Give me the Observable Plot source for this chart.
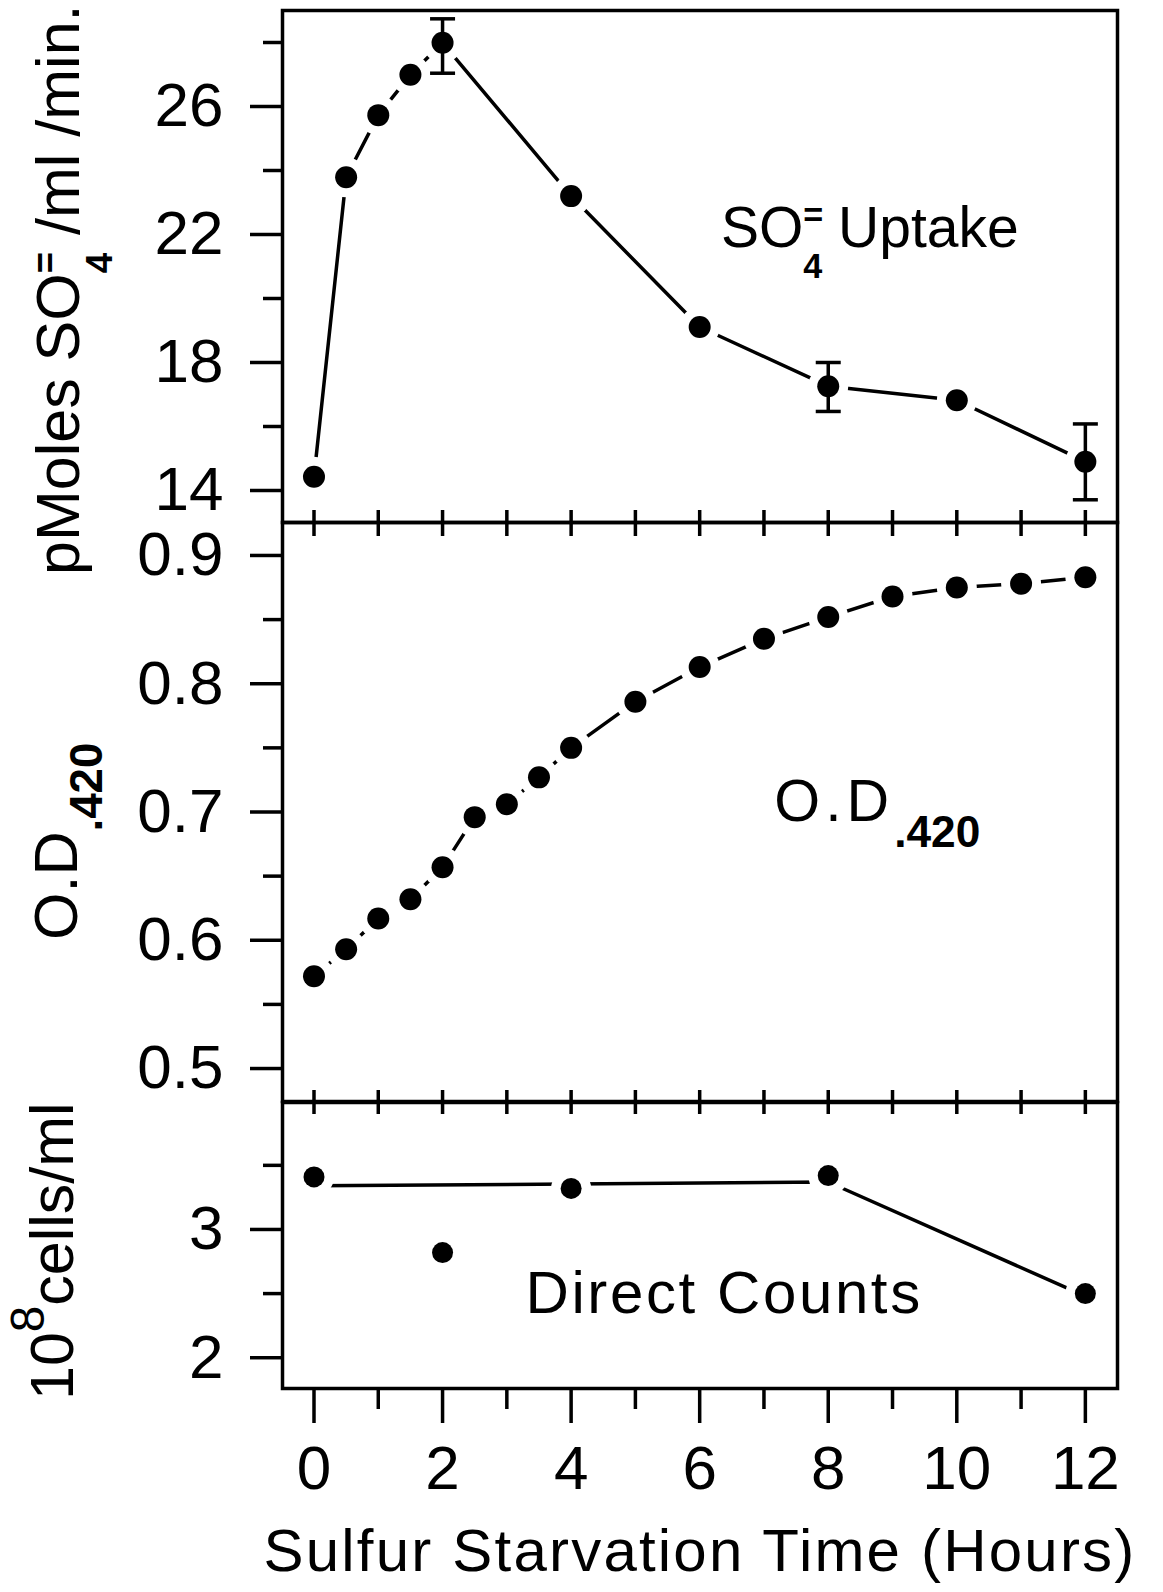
<!DOCTYPE html>
<html>
<head>
<meta charset="utf-8">
<script src="https://cdn.jsdelivr.net/npm/d3@7"></script>
<script src="https://cdn.jsdelivr.net/npm/@observablehq/plot@0.6"></script>
<style>
  body { margin: 0; background: #fff; }
  #wrap { position: relative; width: 1163px; height: 1592px; background: #fff; overflow: hidden;
          font-family: "Liberation Sans", Arial, sans-serif; color: #000; }
  #wrap svg { position: absolute; left: 0; overflow: visible; }
  .ytitle { position: absolute; white-space: nowrap; transform-origin: 0 0; transform: rotate(-90deg);
            line-height: 1; font-size: 61px; }
  .sb { font-size: 0.6em; position: relative; top: 0.9em; font-weight: bold; }
  .sp { font-size: 0.6em; position: relative; top: -0.58em; margin-left: -0.556em; font-weight: bold; }
  .sub2 { font-size: 0.75em; position: relative; top: 0.55em; font-weight: bold; }
  .sup8 { font-size: 0.78em; position: relative; top: -0.62em; }
</style>
</head>
<body>
<div id="wrap"></div>
<script>
// ---------------- data ----------------
const hours = [0, 1, 2, 3, 4, 5, 6, 7, 8, 9, 10, 11, 12];
const evenHours = [0, 2, 4, 6, 8, 10, 12];
const oddHours = [1, 3, 5, 7, 9, 11];

// Panel 1: SO4= uptake (pMoles/ml/min)
const uptakeHours  = [0, 0.5, 1, 1.5, 2, 4, 6, 8, 10, 12];
const uptakeValues = [14.43, 23.79, 25.73, 26.99, 27.99, 23.2, 19.11, 17.26, 16.82, 14.9];
const errHours = [2, 8, 12];
const errLow   = [27.04, 16.47, 13.71];
const errHigh  = [28.74, 18.0, 16.08];
const uptakeMajor = [14, 18, 22, 26];
const uptakeMinor = [16, 20, 24, 28];

// Panel 2: O.D.420
const odHours  = [0, 0.5, 1, 1.5, 2, 2.5, 3, 3.5, 4, 5, 6, 7, 8, 9, 10, 11, 12];
const odValues = [0.572, 0.593, 0.617, 0.632, 0.657, 0.696, 0.706, 0.727, 0.750, 0.786, 0.813, 0.835, 0.852, 0.868, 0.875, 0.878, 0.883];
const odMajor = [0.5, 0.6, 0.7, 0.8, 0.9];
const odMinor = [0.55, 0.65, 0.75, 0.85];

// Panel 3: direct counts (10^8 cells/ml)
const countHours  = [0, 2, 4, 8, 12];
const countValues = [3.41, 2.82, 3.32, 3.42, 2.50];
const countLineHours  = [0, 8, 12];
const countLineValues = [3.34, 3.37, 2.48];
const countMajor = [2, 3];
const countMinor = [2.5, 3.5];

// in-panel labels
const noteLabels = ["SO4= Uptake", "O.D.420", "Direct Counts"];
const noteHours  = [6.33, 7.16, 3.29];
const noteValues = [22.87, 0.7257, 2.68];
const xTitle = "Sulfur Starvation Time (Hours)";

// ---------------- build ----------------
const zip2 = (xs, ys) => xs.map((h, i) => ({h, v: ys[i]}));
const uptake = zip2(uptakeHours, uptakeValues);
const uptakeErr = errHours.map((h, i) => ({h, lo: errLow[i], hi: errHigh[i]}));
const od = zip2(odHours, odValues);
const counts = zip2(countHours, countValues);
const countLine = zip2(countLineHours, countLineValues);
const notes = noteLabels.map((label, i) => ({label, h: noteHours[i], v: noteValues[i]}));

const FONT = "'Liberation Sans', Arial, sans-serif";
const W = 1163, ML = 282, MR = 46;
const xScale = {domain: [-0.49, 12.5], label: null};
const style = {background: "none", overflow: "visible", fontFamily: FONT, color: "black"};
const capSymbol = {
  draw(context, size) {
    const r = Math.sqrt(size / Math.PI);
    context.moveTo(-r, 0);
    context.lineTo(r, 0);
  }
};
const SW = 3.5;
const wrap = document.getElementById("wrap");
function place(svg, top) { svg.style.top = top + "px"; wrap.appendChild(svg); return svg; }

const fmt = d => String(d);
const yMajor = (ticks) => Plot.axisY({ticks, tickSize: 32, tickPadding: 27, fontSize: 62, tickFormat: fmt, strokeWidth: SW, label: null});
const yMinor = (ticks) => Plot.axisY({ticks, tickSize: 19, tickFormat: () => "", strokeWidth: SW, label: null});
const xTicks = (anchor, size, ticks = hours) => Plot.axisX({anchor, ticks, tickSize: size, tickFormat: () => "", strokeWidth: SW, label: null});
const halo = (data, r = 20) => Plot.dot(data, {x: "h", y: "v", r, fill: "white"});
const blackDots = (data, r = 11) => Plot.dot(data, {x: "h", y: "v", r, fill: "black"});
const seriesLine = (data) => Plot.line(data, {x: "h", y: "v", strokeWidth: SW, stroke: "black"});

// Panel 1
const p1 = Plot.plot({
  width: W, height: 540, marginTop: 10, marginBottom: 18, marginLeft: ML, marginRight: MR,
  style, x: xScale, y: {domain: [13, 29], label: null},
  marks: [
    yMajor(uptakeMajor), yMinor(uptakeMinor), xTicks("bottom", 14),
    seriesLine(uptake),
    halo(uptake),
    Plot.ruleX(uptakeErr, {x: "h", y1: "lo", y2: "hi", strokeWidth: SW, stroke: "black"}),
    Plot.dot(uptakeErr, {x: "h", y: "lo", r: 12.5, symbol: capSymbol, stroke: "black", strokeWidth: SW}),
    Plot.dot(uptakeErr, {x: "h", y: "hi", r: 12.5, symbol: capSymbol, stroke: "black", strokeWidth: SW}),
    blackDots(uptake),
    Plot.text(notes.slice(0, 1), {x: "h", y: "v", text: "label", textAnchor: "start", lineAnchor: "top", fontSize: 57}),
    Plot.frame({strokeWidth: SW})
  ]
});
place(p1, 0);

// Panel 2
const p2 = Plot.plot({
  width: W, height: 617, marginTop: 20, marginBottom: 18, marginLeft: ML, marginRight: MR,
  style, x: xScale, y: {domain: [0.4743, 0.9257], label: null},
  marks: [
    yMajor(odMajor), yMinor(odMinor), xTicks("top", 13), xTicks("bottom", 13),
    seriesLine(od),
    halo(od),
    blackDots(od),
    Plot.text(notes.slice(1, 2), {x: "h", y: "v", text: "label", textAnchor: "start", lineAnchor: "top", fontSize: 59}),
    Plot.frame({strokeWidth: SW})
  ]
});
place(p2, 502);

// Panel 3
const p3 = Plot.plot({
  width: W, height: 510, marginTop: 20, marginBottom: 204, marginLeft: ML, marginRight: MR,
  style, x: xScale, y: {domain: [1.76, 3.99], label: null},
  marks: [
    yMajor(countMajor), yMinor(countMinor), xTicks("top", 13),
    Plot.axisX({anchor: "bottom", ticks: oddHours, tickSize: 21, tickFormat: () => "", strokeWidth: SW, label: null}),
    Plot.axisX({anchor: "bottom", ticks: evenHours, tickSize: 35, tickPadding: 21, fontSize: 62, tickFormat: fmt, strokeWidth: SW, label: null}),
    seriesLine(countLine),
    halo(counts),
    blackDots(counts, 10.5),
    Plot.text(notes.slice(2, 3), {x: "h", y: "v", text: "label", textAnchor: "start", lineAnchor: "top", fontSize: 60}),
    Plot.text([xTitle], {frameAnchor: "bottom", text: d => d, lineAnchor: "top", dy: 140, fontSize: 60}),
    Plot.frame({strokeWidth: SW})
  ]
});
place(p3, 1082);

// rich text for in-panel labels
function rich(content, build) {
  d3.select(wrap).selectAll("text").filter(function() { return this.textContent === content; })
    .each(function() { const t = d3.select(this); t.text(null); build(t); });
}
rich("SO4= Uptake", t => {
  t.append("tspan").text("SO");
  t.append("tspan").attr("font-size", "0.6em").attr("font-weight", "bold").attr("dy", "-0.58em").text("=");
  t.append("tspan").attr("font-size", "0.6em").attr("font-weight", "bold").attr("dx", "-0.584em").attr("dy", "1.48em").text("4");
  t.append("tspan").attr("dy", "-0.54em").text(" Uptake");
});
rich("O.D.420", t => {
  t.append("tspan").attr("letter-spacing", "5").text("O.D");
  t.append("tspan").attr("font-size", "0.75em").attr("font-weight", "bold").attr("dy", "0.59em").text(".420");
});
d3.select(wrap).selectAll("text").filter(function() { return this.textContent === "Direct Counts"; })
  .attr("letter-spacing", "2.6");
d3.select(wrap).selectAll("text").filter(function() { return this.textContent === xTitle; })
  .attr("letter-spacing", "2.2");

// rotated y-axis titles
const titles = [
  {html: 'pMoles SO<span class="sb">4</span><span class="sp">=</span> /ml /min.', left: 28, cy: 289},
  {html: 'O.D<span class="sub2">.420</span>', left: 26, cy: 841},
  {html: '10<span class="sup8">8</span>cells/ml', left: 22, cy: 1251}
];
for (const t of titles) {
  const d = document.createElement("div");
  d.className = "ytitle";
  d.innerHTML = t.html;
  wrap.appendChild(d);
  d.style.left = t.left + "px";
  d.style.top = (t.cy + d.offsetWidth / 2) + "px";
}
</script>
</body>
</html>
